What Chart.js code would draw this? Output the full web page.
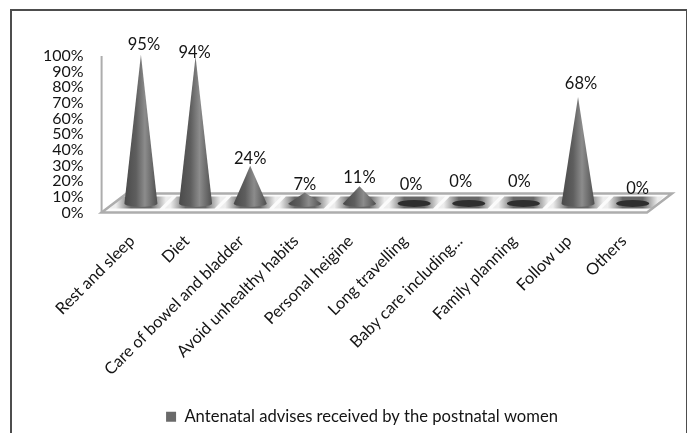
<!DOCTYPE html>
<html>
<head>
<meta charset="utf-8">
<title>Antenatal advises</title>
<style>
  html, body { margin: 0; background: #fff; overflow: hidden; }
  #wrap { position: relative; width: 687px; height: 433px; }
  #frame { position: absolute; left: 10px; top: 9px; width: 674px; height: 430px; border: 2px solid #4d4d4d; }
  canvas { position: absolute; left: 0; top: 0; }
</style>
<script src="https://cdn.jsdelivr.net/npm/chart.js@4/dist/chart.umd.min.js"></script>
</head>
<body>
<div id="wrap">
  <div id="frame"></div>
  <canvas id="chart1" width="687" height="433"></canvas>
</div>
<script>
const categories = [
  'Rest and sleep',
  'Diet',
  'Care of bowel and bladder',
  'Avoid unhealthy habits',
  'Personal heigine',
  'Long travelling',
  'Baby care including...',
  'Family planning',
  'Follow up',
  'Others',
];
const percentages = [95, 94, 24, 7, 11, 0, 0, 0, 68, 0];
const seriesName = 'Antenatal advises received by the postnatal women';

const FONT = 'Lato, "Open Sans", sans-serif';
const TEXT = '#141414';
// cones stand on the middle of the floor, behind the axis baseline
const FLOOR_RISE = 9;
const CONE_RX = 16.5;
const CONE_RY = 3.5;
// hand placement of each value label relative to its cone tip
const labelNudge = [[3, -10], [-1, -4], [0, -7], [0, -8], [0, -9], [-3, -19], [-8, -22], [-4, -22], [3, -13], [5, -15]];

function drawFloor(ctx, area, points) {
  const front = area.bottom;
  const back = front - 19;
  const left = area.left - 12;
  const right = area.right - 13;
  const skew = 25;

  ctx.beginPath();
  ctx.moveTo(left, front);
  ctx.lineTo(right, front);
  ctx.lineTo(right + skew, back);
  ctx.lineTo(left + skew, back);
  ctx.closePath();
  ctx.fillStyle = '#fbfbfb';
  ctx.fill();

  // shaded patch under each cone, slanted like the floor
  points.forEach((p) => {
    const half = 25;
    const y0 = front - 4;
    const y1 = back + 3;
    const grad = ctx.createLinearGradient(p.x - half, 0, p.x + half, 0);
    grad.addColorStop(0, 'rgba(110,110,110,0.1)');
    grad.addColorStop(0.3, 'rgba(95,95,95,0.95)');
    grad.addColorStop(0.7, 'rgba(95,95,95,0.95)');
    grad.addColorStop(1, 'rgba(110,110,110,0.1)');
    ctx.beginPath();
    ctx.moveTo(p.x - half - 6, y0);
    ctx.lineTo(p.x + half - 6, y0);
    ctx.lineTo(p.x + half + 6, y1);
    ctx.lineTo(p.x - half + 6, y1);
    ctx.closePath();
    ctx.fillStyle = grad;
    ctx.fill();
  });

  ctx.beginPath();
  ctx.moveTo(left, front);
  ctx.lineTo(right, front);
  ctx.lineTo(right + skew, back);
  ctx.lineTo(left + skew, back);
  ctx.closePath();
  ctx.strokeStyle = '#adadad';
  ctx.lineWidth = 2.5;
  ctx.stroke();

  // wall line of the value axis
  ctx.beginPath();
  ctx.moveTo(left, area.top);
  ctx.lineTo(left, front);
  ctx.strokeStyle = '#adadad';
  ctx.lineWidth = 2;
  ctx.stroke();
}

function drawCone(ctx, x, baseY, tipY) {
  if (baseY - tipY < 1) {
    ctx.beginPath();
    ctx.ellipse(x, baseY, CONE_RX, CONE_RY, 0, 0, Math.PI * 2);
    ctx.fillStyle = '#2e2e2e';
    ctx.fill();
    return;
  }
  const grad = ctx.createLinearGradient(x - CONE_RX, 0, x + CONE_RX, 0);
  grad.addColorStop(0, '#4a4a4a');
  grad.addColorStop(0.35, '#5e5e5e');
  grad.addColorStop(0.62, '#8c8c8c');
  grad.addColorStop(1, '#4f4f4f');
  ctx.beginPath();
  ctx.moveTo(x, tipY);
  ctx.lineTo(x + CONE_RX, baseY);
  ctx.ellipse(x, baseY, CONE_RX, CONE_RY, 0, 0, Math.PI);
  ctx.closePath();
  ctx.fillStyle = grad;
  ctx.fill();
}

const conePlugin = {
  id: 'cones',
  // tick labels are clipped to the scale box, so open it up to the left edge
  afterLayout(chart) {
    chart.scales.y.left = 0;
  },
  // the bars are replaced by cones placed from the same scale positions
  beforeDatasetDraw(chart) {
    const { ctx, chartArea } = chart;
    const points = chart.getDatasetMeta(0).data;
    ctx.save();
    drawFloor(ctx, chartArea, points);
    points.forEach((p) => {
      drawCone(ctx, p.x, chart.scales.y.getPixelForValue(0) - FLOOR_RISE, p.y - FLOOR_RISE);
    });
    ctx.font = `16.5px ${FONT}`;
    ctx.fillStyle = TEXT;
    ctx.textAlign = 'center';
    ctx.textBaseline = 'middle';
    points.forEach((p, i) => {
      const [dx, dy] = labelNudge[i];
      ctx.fillText(`${percentages[i]}%`, p.x + dx, p.y - FLOOR_RISE + dy);
    });
    ctx.restore();
    return false;
  },
};

const ctx = document.getElementById('chart1').getContext('2d');
const chart1 = new Chart(ctx, {
  type: 'bar',
  data: {
    labels: categories,
    datasets: [{
      label: seriesName,
      data: percentages,
      backgroundColor: '#6a6a6a',
    }],
  },
  options: {
    responsive: false,
    animation: false,
    layout: { padding: { left: 64, right: 27, top: 56, bottom: -2 } },
    plugins: {
      tooltip: { enabled: false },
      legend: {
        position: 'bottom',
        labels: {
          color: TEXT,
          font: { family: FONT, size: 16.6 },
          boxWidth: 10,
          boxHeight: 10,
          padding: 2,
        },
      },
    },
    scales: {
      x: {
        grid: { display: false },
        border: { display: false },
        afterFit(scale) { scale.height = 194; },
        ticks: {
          color: TEXT,
          font: { family: FONT, size: 16.4 },
          minRotation: 45,
          maxRotation: 45,
          autoSkip: false,
          padding: 11,
          labelOffset: -9,
        },
      },
      y: {
        min: 0,
        max: 100,
        grid: { display: false },
        border: { display: false },
        afterFit(scale) { scale.width = 49.6; },
        ticks: {
          color: TEXT,
          font: { family: FONT, size: 16 },
          padding: 22,
          stepSize: 10,
          autoSkip: false,
          callback: (value) => `${value}%`,
        },
      },
    },
  },
  plugins: [conePlugin],
});
</script>
</body>
</html>
